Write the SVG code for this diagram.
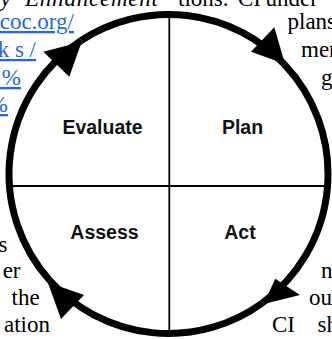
<svg xmlns="http://www.w3.org/2000/svg" width="332" height="339" viewBox="0 0 332 339">
  <style>
    .body { font-family: "Liberation Serif", "Times New Roman", serif; font-size: 23px; fill: #000; }
    .ital { font-style: italic; }
    .link { font-family: "Liberation Serif", "Times New Roman", serif; font-size: 23px; fill: #2366e8; text-decoration: underline; }
    .label { font-family: "Liberation Sans", Arial, sans-serif; font-size: 19.5px; font-weight: bold; fill: #111; text-anchor: middle; }
    .ring-fill { fill: #fff; stroke: none; }
    .divider { stroke: #000; stroke-width: 1.8; fill: none; }
    .arc { fill: none; stroke: #000; stroke-width: 7; }
    .arrowhead { fill: #000; stroke: none; }
  </style>

  <!-- surrounding page text -->
  <g id="page-text">
    <text class="body ital" x="-6" y="6">ty</text>
    <text class="body ital" x="25" y="6" textLength="133" lengthAdjust="spacing">Enhancement</text>
    <text class="body" y="6"><tspan x="178">tions.</tspan><tspan x="238">CI</tspan><tspan x="265.5">under</tspan></text>

    <text class="link" x="74" y="29" text-anchor="end">coc.org/</text>
    <text class="link" x="36" y="57" text-anchor="end">k s /</text>
    <text class="link" x="21" y="85" text-anchor="end">&#160;%</text>
    <text class="link" x="8" y="112" text-anchor="end">&#160;%</text>

    <text class="body" x="287.5" y="29">plans</text>
    <text class="body" x="301" y="57">men</text>
    <text class="body" x="321" y="85">g</text>

    <text class="body" x="7.5" y="252" text-anchor="end">s</text>
    <text class="body" x="20.5" y="278" text-anchor="end">er</text>
    <text class="body" x="11.5" y="305">the</text>
    <text class="body" x="50" y="332" text-anchor="end">ation</text>

    <text class="body" x="321" y="278">n</text>
    <text class="body" x="309" y="305">ou</text>
    <text class="body" y="332"><tspan x="272">CI</tspan><tspan x="317.5">sh</tspan></text>
  </g>

  <!-- white disc behind the quadrants -->
  <g id="cycle">
    <circle class="ring-fill" cx="168.5" cy="174" r="159.5"/>
    <line class="divider" x1="169.3" y1="14" x2="169.3" y2="334"/>
    <line class="divider" x1="9" y1="186" x2="328" y2="186"/>
  </g>

  <g id="evaluate"><text class="label" x="102.5" y="134">Evaluate</text></g>
  <g id="plan"><text class="label" x="242.5" y="134">Plan</text></g>
  <g id="assess"><text class="label" x="104.5" y="238.5">Assess</text></g>
  <g id="act"><text class="label" x="240" y="238.5">Act</text></g>

  <!-- clockwise cycle: Evaluate -> Plan -> Act -> Assess -> Evaluate -->
  <g id="connectors">
    <path class="arc" d="M81.2,40.5 A159.5,159.5 0 0 1 284.4,64.4"/>
    <path class="arc" d="M284.4,64.4 A159.5,159.5 0 0 1 262.7,302.7"/>
    <path class="arc" d="M262.7,302.7 A159.5,159.5 0 0 1 49.8,280.5"/>
    <path class="arc" d="M49.8,280.5 A159.5,159.5 0 0 1 81.2,40.5"/>
    <polygon class="arrowhead" points="43.3,51.7 81.7,41.7 69.3,76.7"/>
    <polygon class="arrowhead" points="251,51.7 274.3,27.3 285,64"/>
    <polygon class="arrowhead" points="275.3,278.7 300,295 263.7,304"/>
    <polygon class="arrowhead" points="47.7,282.3 84,295 61,319"/>
  </g>
</svg>
